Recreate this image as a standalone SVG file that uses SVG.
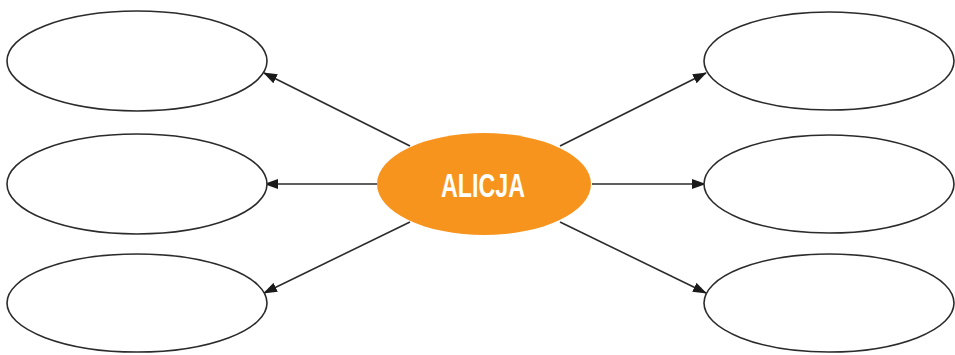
<svg xmlns="http://www.w3.org/2000/svg" width="955" height="355" viewBox="0 0 955 355">
<style>
.n{fill:#fff;stroke:#2b2b2b;stroke-width:1.6}
.c{stroke:#2b2b2b;stroke-width:1.6;fill:none;marker-end:url(#ah)}
.t{font-family:"Liberation Sans",Arial,sans-serif;font-weight:bold;fill:#fff;font-size:34px}
</style>
<defs>
<marker id="ah" markerWidth="14" markerHeight="10" refX="13" refY="5" orient="auto" markerUnits="userSpaceOnUse">
<path d="M0,0 L14,5 L0,10 Z" fill="#1a1a1a"/>
</marker>
</defs>
<g id="connectors">
<line class="c" x1="410" y1="146" x2="264" y2="73"/>
<line class="c" x1="377" y1="184" x2="265" y2="184"/>
<line class="c" x1="410" y1="222" x2="264" y2="293"/>
<line class="c" x1="560" y1="146" x2="706" y2="73"/>
<line class="c" x1="592" y1="184" x2="705" y2="184"/>
<line class="c" x1="560" y1="222" x2="706" y2="293"/>
</g>
<g id="n-l1"><ellipse class="n" cx="137" cy="61" rx="130" ry="50"/></g>
<g id="n-l2"><ellipse class="n" cx="137" cy="184" rx="130" ry="50"/></g>
<g id="n-l3"><ellipse class="n" cx="137" cy="303" rx="130" ry="49"/></g>
<g id="n-r1"><ellipse class="n" cx="829" cy="61" rx="125" ry="49"/></g>
<g id="n-r2"><ellipse class="n" cx="829" cy="184" rx="125" ry="49"/></g>
<g id="n-r3"><ellipse class="n" cx="829" cy="303" rx="125" ry="49"/></g>
<g id="n-alicja">
<ellipse cx="484" cy="184" rx="107" ry="51" fill="#f7941d"/>
<text class="t" x="483" y="197" text-anchor="middle" textLength="84" lengthAdjust="spacingAndGlyphs">ALICJA</text>
</g>
</svg>
